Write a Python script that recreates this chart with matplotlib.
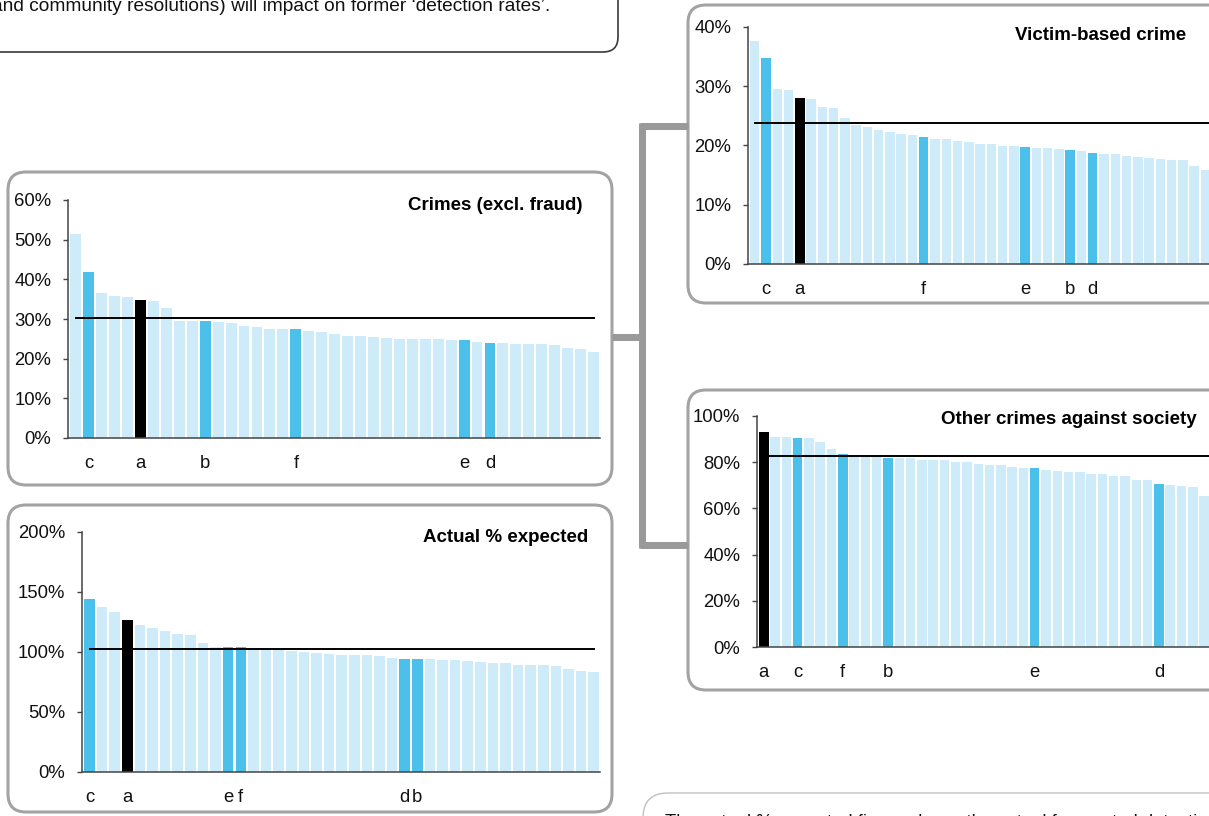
import matplotlib.pyplot as plt
from matplotlib.patches import FancyBboxPatch

plt.rcParams["font.family"] = ["Liberation Sans", "DejaVu Sans"]

W, H = 1209, 816

# ---------------------------------------------------------------------------
# Data
# ---------------------------------------------------------------------------
crimes_vals = [51.4, 41.9, 36.6, 35.7, 35.6, 34.7, 34.6, 32.8, 29.6, 29.5, 29.4,
               29.2, 29.0, 28.3, 28.0, 27.6, 27.4, 27.4, 27.1, 26.6, 26.3, 25.7,
               25.7, 25.4, 25.2, 25.0, 25.0, 24.9, 24.9, 24.8, 24.6, 24.3, 24.0,
               23.9, 23.8, 23.8, 23.6, 23.4, 22.6, 22.5, 21.7]
crimes_idx = [1, 5, 10, 17, 30, 32]
crimes_lbl = ["c", "a", "b", "f", "e", "d"]
crimes_avg = 30.3

actual_vals = [144.4, 137.5, 133.3, 126.4, 122.8, 119.7, 117.2, 115.3, 114.2, 107.2,
               103.9, 103.9, 103.9, 102.2, 101.7, 101.4, 100.8, 100.0, 98.9, 98.1,
               97.2, 97.2, 97.2, 96.4, 94.7, 94.4, 94.4, 94.4, 93.0, 93.0,
               92.2, 91.7, 90.6, 90.6, 89.2, 89.2, 89.2, 88.1, 85.6, 84.2, 83.1]
actual_idx = [0, 3, 11, 12, 25, 26]
actual_lbl = ["c", "a", "e", "f", "d", "b"]
actual_avg = 102.2

victim_vals = [37.6, 34.8, 29.6, 29.3, 28.1, 27.9, 26.5, 26.3, 24.6, 23.5,
               23.1, 22.6, 22.2, 21.9, 21.7, 21.5, 21.1, 21.1, 20.7, 20.6,
               20.3, 20.2, 19.9, 19.9, 19.8, 19.6, 19.5, 19.4, 19.3, 19.0,
               18.8, 18.6, 18.5, 18.3, 18.0, 17.9, 17.8, 17.6, 17.5, 16.5, 15.8]
victim_idx = [1, 4, 15, 24, 28, 30]
victim_lbl = ["c", "a", "f", "e", "b", "d"]
victim_avg = 23.8

other_vals = [92.9, 90.9, 90.9, 90.6, 90.6, 88.7, 85.7, 83.5, 83.2, 83.2,
              82.4, 81.8, 81.8, 81.8, 81.1, 80.8, 80.8, 79.9, 79.9, 79.3,
              79.0, 78.8, 77.9, 77.6, 77.3, 76.7, 76.4, 75.6, 75.6, 75.1,
              74.9, 74.0, 74.0, 72.1, 72.1, 70.5, 70.1, 69.7, 69.2, 65.3]
other_idx = [0, 3, 7, 11, 24, 35]
other_lbl = ["a", "c", "f", "b", "e", "d"]
other_avg = 82.8

LIGHT = "#CDEBF8"
HIGHLIGHT = "#4BC0EA"
BOX_EDGE = "#A3A3A3"


def px_axes(fig, left, top, right, bottom):
    """Axes placed by pixel edges (y measured from the top)."""
    return fig.add_axes([left / W, 1 - bottom / H, (right - left) / W, (bottom - top) / H])


def rounded_box(ax, x0, y0, x1, y1, r, color, lw):
    ax.add_patch(FancyBboxPatch((x0, y0), x1 - x0, y1 - y0,
                                boxstyle=f"round,pad=0,rounding_size={r}",
                                fc="white", ec=color, lw=lw, zorder=1))


def bar_panel(ax, vals, idx, lbl, avg, ymax, ystep, line_end):
    colors = [LIGHT] * len(vals)
    for i, l in zip(idx, lbl):
        colors[i] = "black" if l == "a" else HIGHLIGHT
    x = range(len(vals))
    ax.bar(x, vals, width=0.84, color=colors, zorder=2)
    ax.plot([0, line_end], [avg, avg], color="black", lw=1.4, zorder=3)
    ax.set_xlim(-0.6, 40.5)
    ax.set_ylim(0, ymax)
    ax.set_yticks(range(0, ymax + 1, ystep))
    ax.set_yticklabels([f"{v}%" for v in range(0, ymax + 1, ystep)])
    ax.set_xticks(idx)
    ax.set_xticklabels(lbl)
    ax.tick_params(axis="x", length=0, pad=12.5, labelsize=13.3, colors="#111111")
    ax.tick_params(axis="y", length=3.6, width=1, pad=8.5, labelsize=13.3,
                   color="#444444", labelcolor="#111111")
    for s in ("top", "right"):
        ax.spines[s].set_visible(False)
    for s in ("left", "bottom"):
        ax.spines[s].set_color("#444444")
        ax.spines[s].set_linewidth(1.1)
    ax.patch.set_alpha(0)


fig = plt.figure(figsize=(W / 100, H / 100), dpi=100)

# background layer in pixel units for boxes, connectors and free text
bg = fig.add_axes([0, 0, 1, 1], zorder=0)
bg.set_xlim(0, W)
bg.set_ylim(H, 0)
bg.axis("off")

rounded_box(bg, -40, -40, 618, 52, 15, "#3A3A3A", 1.2)
bg.text(550, 11, "and community resolutions) will impact on former \u2018detection rates\u2019.",
        ha="right", va="baseline", fontsize=13.8, color="#111111", zorder=2)

rounded_box(bg, 8, 172, 612, 485, 18, BOX_EDGE, 2.2)
rounded_box(bg, 8, 505, 612, 812, 18, BOX_EDGE, 2.2)
rounded_box(bg, 688, 5, 1260, 303, 18, BOX_EDGE, 2.2)
rounded_box(bg, 688, 390, 1260, 690, 18, BOX_EDGE, 2.2)
rounded_box(bg, 643, 793, 1260, 900, 25, "#C0C0C0", 1.0)
bg.text(665, 827, "The actual % expected figure shows the actual forecasted detection rates",
        ha="left", va="baseline", fontsize=13.3, color="#111111", zorder=2)

# bracket connecting the panels
conn = dict(color="#999999", lw=5, solid_capstyle="butt", zorder=1)
bg.plot([612, 642], [337, 337], **conn)
bg.plot([642, 642], [123, 548], **conn)
bg.plot([640, 688], [126, 126], **conn)
bg.plot([640, 688], [545, 545], **conn)

# chart panels
ax1 = px_axes(fig, 68, 200, 600, 438)
bar_panel(ax1, crimes_vals, crimes_idx, crimes_lbl, crimes_avg, 60, 10, 40)
bg.text(582, 205, "Crimes (excl. fraud)", ha="right", va="center",
        fontsize=13.5, fontweight="bold", zorder=2)

ax2 = px_axes(fig, 82, 532, 600, 772)
bar_panel(ax2, actual_vals, actual_idx, actual_lbl, actual_avg, 200, 50, 40)
bg.text(588, 537, "Actual % expected", ha="right", va="center",
        fontsize=13.5, fontweight="bold", zorder=2)

ax3 = px_axes(fig, 748, 27, 1211, 264)
bar_panel(ax3, victim_vals, victim_idx, victim_lbl, victim_avg, 40, 10, 41)
bg.text(1186, 35, "Victim-based crime", ha="right", va="center",
        fontsize=13.5, fontweight="bold", zorder=2)

ax4 = px_axes(fig, 757, 416, 1221, 647)
bar_panel(ax4, other_vals, other_idx, other_lbl, other_avg, 100, 20, 41)
bg.text(1197, 420, "Other crimes against society", ha="right", va="center",
        fontsize=13.5, fontweight="bold", zorder=2)

fig.savefig("out.png", dpi=100)
